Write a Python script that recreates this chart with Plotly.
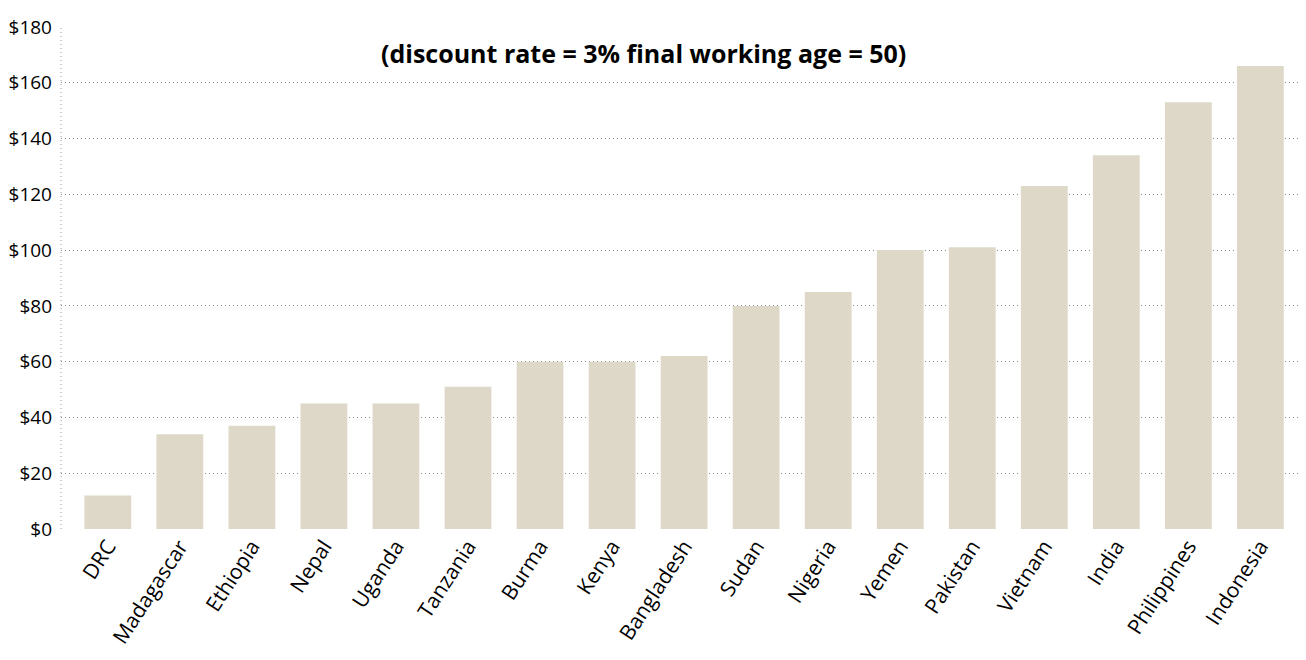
import plotly.graph_objects as go

# countries sorted by value
countries = ["DRC", "Madagascar", "Ethiopia", "Nepal", "Uganda", "Tanzania", "Burma",
             "Kenya", "Bangladesh", "Sudan", "Nigeria", "Yemen", "Pakistan", "Vietnam",
             "India", "Philippines", "Indonesia"]
values = [12, 34, 37, 45, 45, 51, 60, 60, 62, 80, 85, 100, 101, 123, 134, 153, 166]
y_ticks = [0, 20, 40, 60, 80, 100, 120, 140, 160, 180]
y_labels = ["$" + str(v) for v in y_ticks]
title_text = "(discount rate = 3% final working age = 50)"

fig = go.Figure()
fig.add_trace(go.Bar(
    x=countries, y=values,
    marker_color="#ddd8c8", marker_line_width=0,
    hoverinfo="x+y"
))

fig.add_annotation(
    text="<b>" + title_text + "</b>",
    xref="paper", yref="paper", x=0.47, y=0.948, xanchor="center", yanchor="middle",
    showarrow=False, font=dict(size=25, color="#000000")
)

# dotted left axis line
fig.add_shape(type="line", xref="paper", yref="paper", x0=0, x1=0, y0=0, y1=1,
              line=dict(color="#999999", width=1, dash="1px,3px"))

# page body has an 8px margin, so margins are shifted to compensate
fig.update_layout(
    width=1306, height=660,
    margin=dict(l=53, r=14, t=19, b=139),
    paper_bgcolor="white", plot_bgcolor="white",
    bargap=0.35,
    showlegend=False,
    font=dict(family="Open Sans, sans-serif", size=17, color="#000000"),
    xaxis=dict(range=[-0.65, 16.55], tickangle=-57, showgrid=False, showline=False,
               ticks="", tickfont=dict(size=21), automargin=False),
    yaxis=dict(range=[0, 180], tickvals=y_ticks, ticktext=y_labels,
               showgrid=True, gridcolor="#8a8a8a", griddash="1px,3px", gridwidth=1,
               zeroline=False, showline=False, ticks="", ticklabelstandoff=8,
               tickfont=dict(size=19), automargin=False),
)

fig.write_html("out.html")
